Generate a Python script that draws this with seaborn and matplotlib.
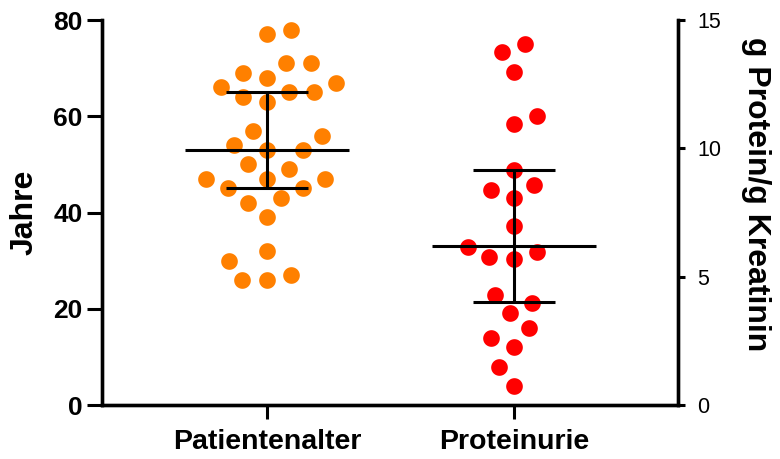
import matplotlib
matplotlib.use("Agg")
import matplotlib.pyplot as plt
import seaborn as sns

categories = ["Patientenalter", "Proteinurie"]

# Alter der Patienten (Jahre)
patientenalter = [71, 65, 50, 45,
                  66, 53, 47, 42, 26,
                  77, 68, 64, 57, 53, 49, 45, 39, 32, 27,
                  78, 71, 67, 63, 54, 47, 30, 26,
                  69, 65, 56, 47, 43]

# Proteinurie (g Protein/g Kreatinin)
proteinurie = [14.06, 13.76, 12.96, 11.27, 10.96, 9.15, 8.57, 8.38, 8.05,
               6.97, 6.17, 5.97, 5.67, 5.75, 4.28, 3.99, 3.57, 2.99, 2.60,
               2.27, 1.47, 0.74]

# Median mit Interquartilsabstand
alter_stats = [53, 45, 65]          # median, q1, q3
protein_stats = [6.2, 4.0, 9.15]    # median, q1, q3

orange = "#FF8000"
red = "#FF0000"

sns.set_theme(style="ticks")
plt.rcParams["font.family"] = ["Liberation Sans", "DejaVu Sans"]
for key in ["text.color", "axes.labelcolor", "xtick.color", "ytick.color", "axes.edgecolor"]:
    plt.rcParams[key] = "black"

fig = plt.figure(figsize=(7.8, 4.59), dpi=100)
ax = fig.add_axes([0.1308, 0.1176, 0.869 - 0.1308, 0.9564 - 0.1176])
ax2 = ax.twinx()

# weisser Rand -> etwas mehr Abstand im Schwarm, sichtbarer Punkt bleibt ~12pt
edge = 2.4
sns.swarmplot(x=[categories[0]] * len(patientenalter), y=patientenalter,
              order=categories, color=orange, size=12 + edge, edgecolor="white",
              linewidth=edge, ax=ax, zorder=2)
sns.swarmplot(x=[categories[1]] * len(proteinurie), y=proteinurie,
              order=categories, color=red, size=12 + edge, edgecolor="white",
              linewidth=edge, ax=ax2, zorder=2)


def draw_summary(axis, xpos, stats):
    med, q1, q3 = stats
    axis.hlines(med, xpos - 0.332, xpos + 0.332, color="black", lw=2.2, zorder=5)
    axis.vlines(xpos, q1, q3, color="black", lw=2.2, zorder=5)
    axis.hlines([q1, q3], xpos - 0.165, xpos + 0.165, color="black", lw=2.2, zorder=5)


draw_summary(ax, 0, alter_stats)
draw_summary(ax2, 1, protein_stats)

for a in (ax, ax2):
    a.set_xlim(-0.668, 1.664)
    a.spines["top"].set_visible(False)
    for s in a.spines.values():
        s.set_linewidth(2.4)

ax.set_ylim(0, 80)
ax.set_yticks([0, 20, 40, 60, 80])
ax2.set_ylim(0, 15)
ax2.set_yticks([0, 5, 10, 15])

ax.set_xticks([0, 1])
ax.set_xticklabels(categories, fontsize=20.5, fontweight="bold")
ax.tick_params(axis="x", length=10, width=2.2, pad=7)
ax.tick_params(axis="y", length=11, width=2.2, labelsize=19, pad=3)
for lbl in ax.get_yticklabels():
    lbl.set_fontweight("bold")
ax2.tick_params(axis="y", length=5, width=2.2, labelsize=15.5, pad=9)
ax2.tick_params(axis="x", bottom=False, labelbottom=False)

ax.set_xlabel("")
ax.set_ylabel("Jahre", fontsize=23, fontweight="bold", labelpad=10)
ax2.set_ylabel("g Protein/g Kreatinin", fontsize=23, fontweight="bold", rotation=270)
ax2.set_xlabel("")
ax2.yaxis.set_label_coords(1.135, 0.548)
ax2.yaxis.label.set_verticalalignment("center")
ax2.yaxis.label.set_horizontalalignment("center")

fig.savefig("out.png", dpi=100)
